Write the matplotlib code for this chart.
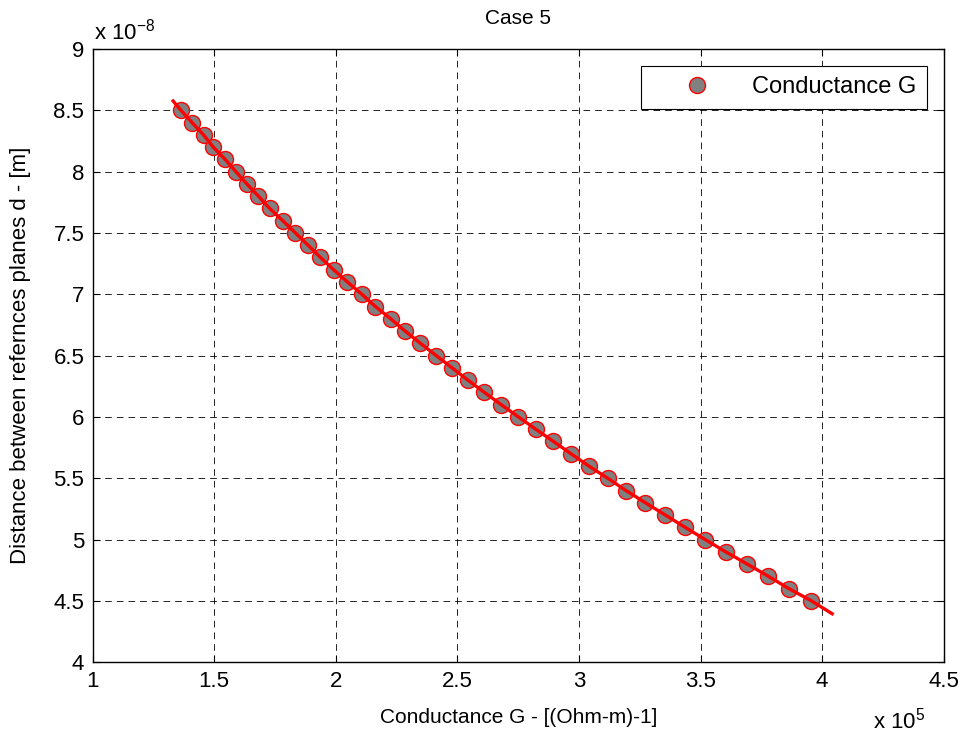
import matplotlib
matplotlib.use("Agg")
from matplotlib import pyplot as plt

plt.rcParams['font.family'] = ['Liberation Sans', 'DejaVu Sans']

# distance between reference planes, in units of 1e-8 m
distance = [8.5, 8.4, 8.3, 8.2, 8.1, 8.0, 7.9, 7.8, 7.7, 7.6, 7.5, 7.4, 7.3, 7.2,
            7.1, 7.0, 6.9, 6.8, 6.7, 6.6, 6.5, 6.4, 6.3, 6.2, 6.1, 6.0, 5.9, 5.8,
            5.7, 5.6, 5.5, 5.4, 5.3, 5.2, 5.1, 5.0, 4.9, 4.8, 4.7, 4.6, 4.5]
# conductance G, in units of 1e5 (Ohm-m)^-1
conductance = [1.363, 1.409, 1.456, 1.496, 1.545, 1.589, 1.634, 1.682, 1.728,
               1.782, 1.834, 1.886, 1.937, 1.991, 2.048, 2.107, 2.163, 2.226,
               2.285, 2.348, 2.413, 2.478, 2.543, 2.611, 2.680, 2.751, 2.822,
               2.895, 2.967, 3.040, 3.118, 3.193, 3.273, 3.355, 3.436, 3.519,
               3.603, 3.692, 3.779, 3.863, 3.956]

# fitted curve, extends a little past the first and last points
fit_g = [1.331] + conductance + [4.041]
fit_d = [8.576] + distance + [4.395]

fig = plt.figure(figsize=(9.65, 7.37), dpi=100)
ax = fig.add_axes([0.096, 0.1015, 0.882, 0.832])

ax.plot(conductance, distance, 'o', markersize=11.5, markerfacecolor=(0.5, 0.5, 0.5),
        markeredgecolor='red', markeredgewidth=1.0, label='Conductance G', zorder=3)
ax.plot(fit_g, fit_d, '-', color='red', linewidth=2.4, zorder=4)

ax.set_xlim(1, 4.5)
ax.set_ylim(4, 9)
ax.set_xticks([1, 1.5, 2, 2.5, 3, 3.5, 4, 4.5])
ax.set_xticklabels(['1', '1.5', '2', '2.5', '3', '3.5', '4', '4.5'])
ax.set_yticks([4, 4.5, 5, 5.5, 6, 6.5, 7, 7.5, 8, 8.5, 9])
ax.set_yticklabels(['4', '4.5', '5', '5.5', '6', '6.5', '7', '7.5', '8', '8.5', '9'])
ax.tick_params(direction='in', length=5, width=0.8, top=True, right=True,
               labelsize=16, pad=6)
ax.grid(True, color='black', linestyle=(0, (8, 6)), linewidth=0.6)
for s in ax.spines.values():
    s.set_linewidth(1.0)

ax.set_title('Case 5', fontsize=15, pad=18)
ax.set_xlabel('Conductance G - [(Ohm-m)-1]', fontsize=15, labelpad=12)
ax.set_ylabel('Distance between refernces planes d - [m]', fontsize=16, labelpad=16)

fig.text(0.097, 0.946, r'x 10$^{\mathregular{-8}}$', fontsize=16)
fig.text(0.905, 0.012, r'x 10$^{\mathregular{5}}$', fontsize=16)

leg = ax.legend(loc='upper right', fontsize=17, frameon=True, fancybox=False,
                edgecolor='black', framealpha=1, borderpad=0.45, handletextpad=0.42,
                handlelength=3.85, borderaxespad=0.7)
leg.get_frame().set_linewidth(0.8)

fig.savefig('out.png', dpi=100)
